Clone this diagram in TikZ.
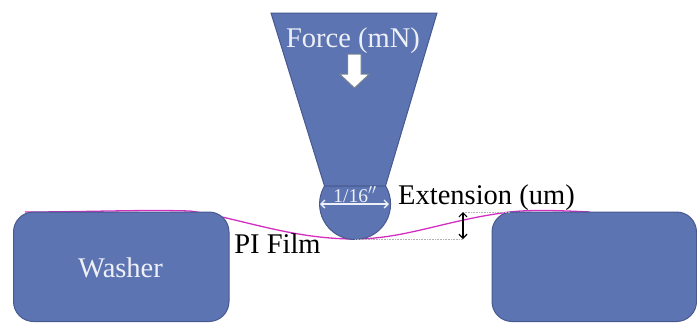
\documentclass[tikz,border=0pt]{standalone}
\usepackage{fontspec}
\setmainfont{Liberation Serif}
\usetikzlibrary{arrows.meta}
\definecolor{bluefill}{HTML}{5D74B3}
\definecolor{blueedge}{HTML}{47598F}
\definecolor{filmc}{HTML}{D22FC0}
\definecolor{softwhite}{HTML}{EEF0F7}
\definecolor{arrowedge}{HTML}{76828F}
\tikzset{
  x=1pt,y=-1pt,
  solidpart/.style={fill=bluefill,draw=blueedge,line width=1pt},
  lab/.style={inner sep=0pt,anchor=base,font=\fontsize{28.5}{30}\selectfont},
  whitelab/.style={lab,text=softwhite},
  guide/.style={draw=black!30,line width=.6pt,densely dotted},
  twoway/.style={{Straight Barb[length=4pt,width=8pt]}-{Straight Barb[length=4pt,width=8pt]}},
}
\begin{document}
\begin{tikzpicture}
\useasboundingbox (0,0) rectangle (697,322);
\clip (0,0) rectangle (697,322);
\coordinate (filmL) at (25,212);
\coordinate (filmR) at (590,212);
\coordinate (tipB) at (355,239);
% film, behind the washers
\draw[filmc,line width=1.3pt] (filmL) .. controls (90,212) and (140,209.5) .. (190,211)
  .. controls (240,218) and (290,239) .. (tipB)
  .. controls (405,239) and (450,219) .. (510,212)
  .. controls (530,209.5) and (560,210.5) .. (filmR);
% washers
\draw[solidpart,rounded corners=20pt] (13.5,212) rectangle (229,321.5);
\draw[solidpart,rounded corners=20pt] (492,212) rectangle (696.5,321.5);
% indenter
\draw[solidpart] (271,13) -- (437,13) -- (385.5,186) -- (324.5,186) -- cycle;
\draw[solidpart] (324.5,186) arc[start angle=149.5,delta angle=241,radius=35.5pt] -- cycle;
% down arrow
\draw[fill=white,draw=arrowedge,line width=1pt]
  (347.5,54) -- (361,54) -- (361,74) -- (369.5,74) -- (354.5,88) -- (339.5,74) -- (347.5,74) -- cycle;
% labels
\node[whitelab] (force) at (353,47) {Force (mN)};
\node[whitelab] (washer) at (120.5,277) {Washer};
\node[whitelab,font=\fontsize{19.5}{20}\selectfont] (dia) at (355,202) {1/16$''$};
\node[lab] (ext) at (486.5,204) {Extension (um)};
\node[lab] (pi) at (277.5,253) {PI Film};
% dimension coordinates
\coordinate (dL) at (320,204);
\coordinate (dR) at (389,204);
\coordinate (eT) at (463,212);
\coordinate (eB) at (463,239);
\coordinate (gT) at (510,212);
\draw[softwhite,line width=1.3pt,twoway] (dL) -- (dR);
\draw[guide] (tipB) -- (eB);
\draw[guide] (eT) -- (gT);
\draw[black,line width=1.2pt,twoway] (eT) -- (eB);
\end{tikzpicture}
\end{document}
